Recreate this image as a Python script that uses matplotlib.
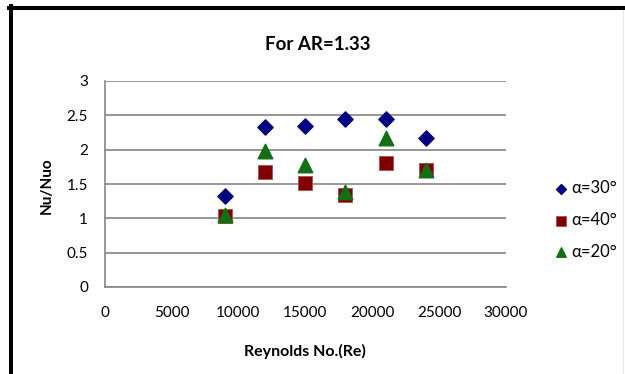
import matplotlib
matplotlib.use("Agg")
import matplotlib.pyplot as plt
from matplotlib.lines import Line2D

plt.rcParams['font.family'] = ['Lato', 'DejaVu Sans']

re_vals = [9000, 12000, 15000, 18000, 21000, 24000]
nu_30 = [1.32, 2.33, 2.35, 2.45, 2.44, 2.17]
nu_40 = [1.04, 1.67, 1.51, 1.34, 1.80, 1.70]
nu_20 = [1.05, 1.98, 1.77, 1.38, 2.17, 1.70]
labels = ['α=30°', 'α=40°', 'α=20°']

W, H = 625, 374
fig = plt.figure(figsize=(W / 100, H / 100), dpi=100)
ax = fig.add_axes([104.7 / W, 1 - 287 / H, (506 - 104.7) / W, (287 - 81) / H])

ax.scatter(re_vals, nu_30, marker='D', s=60, color='#000080', label=labels[0], zorder=3)
ax.scatter(re_vals, nu_40, marker='s', s=110, color='#800000', edgecolors='#b05050',
           linewidths=0.6, label=labels[1], zorder=3)
ax.scatter(re_vals, nu_20, marker='^', s=110, color='#146e14', label=labels[2], zorder=4)

ax.set_xlim(0, 30000)
ax.set_ylim(0, 3)
ax.set_xticks(range(0, 30001, 5000))
ax.set_yticks([0, 0.5, 1, 1.5, 2, 2.5, 3])
ax.set_yticklabels(['0', '0.5', '1', '1.5', '2', '2.5', '3'])
ax.yaxis.grid(True, color='#858585', linewidth=1.2)
ax.set_axisbelow(True)
for s in ['top', 'right']:
    ax.spines[s].set_visible(False)
for s in ['left', 'bottom']:
    ax.spines[s].set_color('#858585')
    ax.spines[s].set_linewidth(1.2)
ax.tick_params(length=0, labelsize=11, colors='black')
ax.tick_params(axis='x', pad=14)
ax.tick_params(axis='y', pad=12)

fig.text(318 / W, 1 - 45 / H, 'For AR=1.33', ha='center', va='center',
         fontsize=13.5, fontweight='bold')
fig.text(305 / W, 1 - 351 / H, 'Reynolds No.(Re)', ha='center', va='center',
         fontsize=11.5, fontweight='bold')
fig.text(47 / W, 1 - 186 / H, 'Nu/Nuo', ha='center', va='center', rotation=90,
         fontsize=11, fontweight='bold')

fig.legend(loc='center left', bbox_to_anchor=(537 / W, 1 - 220 / H), frameon=False,
           fontsize=12, labelspacing=0.95, handletextpad=0.05, handlelength=1.1,
           markerscale=0.65)

# frame lines along the top and left edges
fig.add_artist(Line2D([9 / W, 1], [1 - 8 / H, 1 - 8 / H], transform=fig.transFigure,
                      color='black', linewidth=2.9))
fig.add_artist(Line2D([11 / W, 11 / W], [0, 1 - 6 / H], transform=fig.transFigure,
                      color='black', linewidth=2.9))
fig.add_artist(Line2D([623 / W, 623 / W], [0, 1 - 10 / H], transform=fig.transFigure,
                      color='#e6e6e6', linewidth=0.8))

fig.savefig('out.png', dpi=100)
